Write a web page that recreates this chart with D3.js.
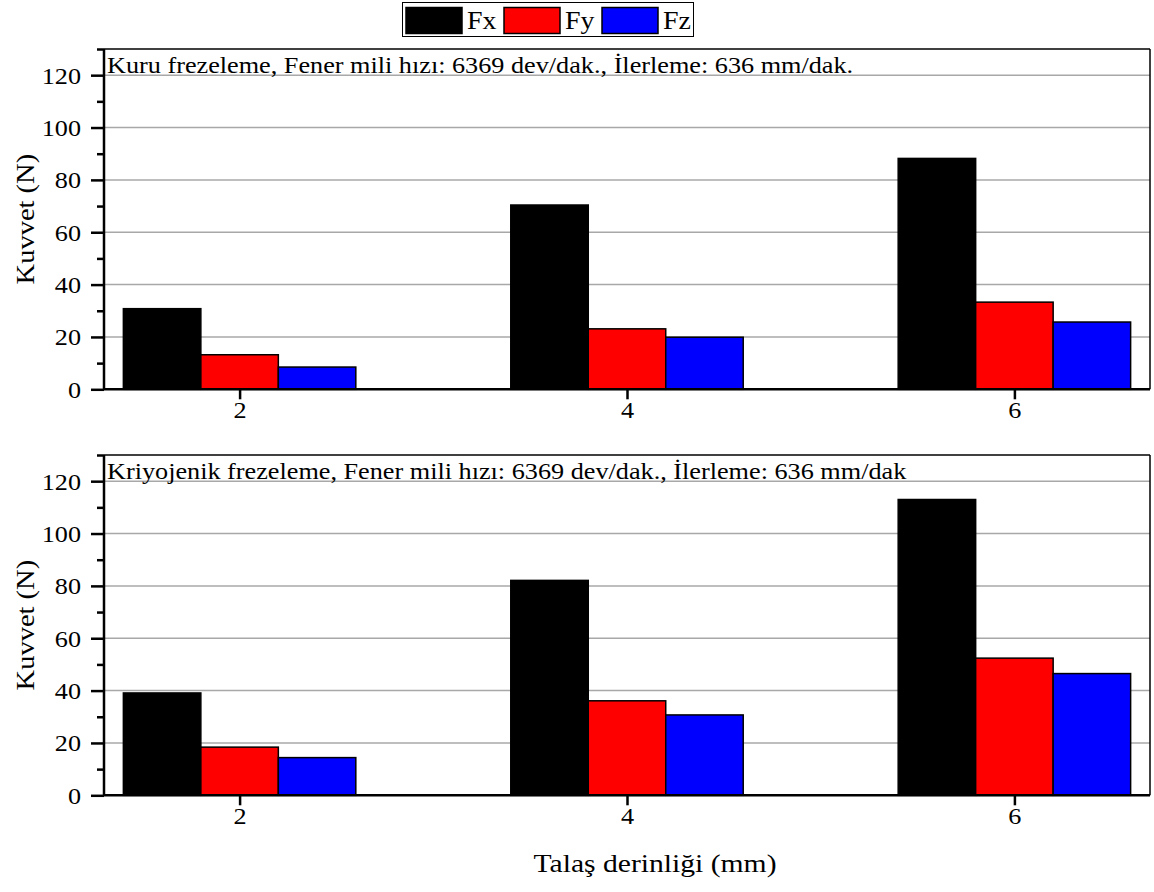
<!DOCTYPE html>
<html>
<head>
<meta charset="utf-8">
<script src="https://cdn.jsdelivr.net/npm/d3@7"></script>
<style>
  body { margin: 0; background: #fff; }
  svg text { font-family: "Liberation Serif", "Times New Roman", serif !important; fill: #000; }
</style>
</head>
<body>
<svg id="chart" width="1154" height="892"></svg>
<script>
const categories = [2, 4, 6];
const seriesNames = ["Fx", "Fy", "Fz"];
const seriesColors = ["#000000", "#ff0000", "#0000ff"];
const dryFx = [30.8, 70.4, 88.2];
const dryFy = [13.2, 23.1, 33.3];
const dryFz = [8.5, 19.9, 25.7];
const cryoFx = [39.1, 82.1, 113.0];
const cryoFy = [18.4, 36.1, 52.4];
const cryoFz = [14.4, 30.7, 46.5];
const yTicks = [0, 20, 40, 60, 80, 100, 120];
const yMinorTicks = [10, 30, 50, 70, 90, 110, 130];
const panelTitles = [
  "Kuru frezeleme, Fener mili hızı: 6369 dev/dak., İlerleme: 636 mm/dak.",
  "Kriyojenik frezeleme, Fener mili hızı: 6369 dev/dak., İlerleme: 636 mm/dak"
];
const yLabel = "Kuvvet (N)";
const xLabel = "Talaş derinliği (mm)";

const panels = [
  { title: panelTitles[0], values: [dryFx, dryFy, dryFz], top: 49, bottom: 389.3 },
  { title: panelTitles[1], values: [cryoFx, cryoFy, cryoFz], top: 455, bottom: 795.3 }
];

const FONT = '"Liberation Serif", "Times New Roman", serif';
const K = 1.14; // horizontal glyph stretch of the original
const svg = d3.select("#chart");
const left = 104, right = 1150;
const x = d3.scaleLinear().domain([1.3, 6.7]).range([left, right]);
const barW = 0.4;
const fs = 23;

function stretch(sel, tx, ty, k) {
  sel.attr("x", 0).attr("y", 0)
    .attr("transform", `translate(${tx},${ty}) scale(${k},1)`)
    .style("font-family", FONT);
}

panels.forEach((p, pi) => {
  const y = d3.scaleLinear().domain([0, 130]).range([p.bottom, p.top]);
  const g = svg.append("g");
  g.selectAll("line.grid").data(yTicks.slice(1)).join("line")
    .attr("x1", left).attr("x2", right)
    .attr("y1", d => y(d)).attr("y2", d => y(d))
    .attr("stroke", "#a8a8a8").attr("stroke-width", 1.5);
  p.values.forEach((vals, si) => {
    g.selectAll("rect.s" + si).data(vals).join("rect")
      .attr("x", (d, i) => x(categories[i] + (si - 1.5) * barW))
      .attr("width", x(barW) - x(0))
      .attr("y", d => y(d))
      .attr("height", d => y(0) - y(d))
      .attr("fill", seriesColors[si])
      .attr("stroke", "#000").attr("stroke-width", 1.5);
  });
  g.append("line").attr("x1", left).attr("x2", right).attr("y1", y(130)).attr("y2", y(130))
    .attr("stroke", "#000").attr("stroke-width", 1.5);
  g.append("line").attr("x1", right).attr("x2", right).attr("y1", y(130)).attr("y2", y(0))
    .attr("stroke", "#000").attr("stroke-width", 1.5);
  // left axis
  const ya = d3.axisLeft(y).tickValues(yTicks).tickSize(13).tickPadding(10).tickFormat(d3.format("d"));
  const yag = g.append("g").attr("transform", `translate(${left},0)`).call(ya)
    .attr("font-family", FONT).attr("font-size", fs);
  yag.select(".domain").attr("stroke-width", 2.5).attr("d", `M0,${y(130)}V${y(0)}`);
  yag.selectAll(".tick line").attr("stroke-width", 2.5);
  yag.selectAll(".tick text").each(function () {
    const t = d3.select(this);
    stretch(t, -23, 0, K);
    t.attr("dy", "0.34em").attr("font-size", fs);
  });
  const yminor = d3.axisLeft(y).tickValues(yMinorTicks).tickSize(7).tickFormat("");
  const ymg = g.append("g").attr("transform", `translate(${left},0)`).call(yminor);
  ymg.select(".domain").remove();
  ymg.selectAll(".tick line").attr("stroke-width", 2.5);
  // bottom axis
  const xa = d3.axisBottom(x).tickValues(categories).tickSize(10).tickPadding(6).tickFormat(d3.format("d"));
  const xag = g.append("g").attr("transform", `translate(0,${y(0)})`).call(xa)
    .attr("font-family", FONT).attr("font-size", fs);
  xag.select(".domain").attr("stroke-width", 2.5).attr("d", `M${left},0H${right}`);
  xag.selectAll(".tick line").attr("stroke-width", 2.5);
  xag.selectAll(".tick text").each(function () {
    const t = d3.select(this);
    stretch(t, 0, 12, K);
    t.attr("dy", "0.71em").attr("font-size", fs);
  });
  // panel title
  const tt = g.append("text").attr("font-size", fs).text(p.title);
  stretch(tt, left + 3, y(120) - 2, K);
  // y label
  g.append("text")
    .attr("transform", `translate(34,${(y(0) + y(130)) / 2}) rotate(-90) scale(${K},1)`)
    .attr("text-anchor", "middle").attr("font-size", 25)
    .style("font-family", FONT).text(yLabel);
});

const xl = svg.append("text").attr("text-anchor", "middle").attr("font-size", 26).text(xLabel);
stretch(xl, (left + right) / 2 + 28, 872, K);

// legend
const lg = svg.append("g");
lg.append("rect").attr("x", 402.5).attr("y", 2.5).attr("width", 291).attr("height", 34)
  .attr("fill", "#fff").attr("stroke", "#000").attr("stroke-width", 1);
const legX = [406, 504, 602];
seriesNames.forEach((n, i) => {
  lg.append("rect").attr("x", legX[i]).attr("y", 7.5).attr("width", 56).attr("height", 26)
    .attr("fill", seriesColors[i]).attr("stroke", "#000").attr("stroke-width", 1.5);
  const t = lg.append("text").attr("font-size", 24.5).text(n);
  stretch(t, legX[i] + 61, 29, K);
});
</script>
</body>
</html>
